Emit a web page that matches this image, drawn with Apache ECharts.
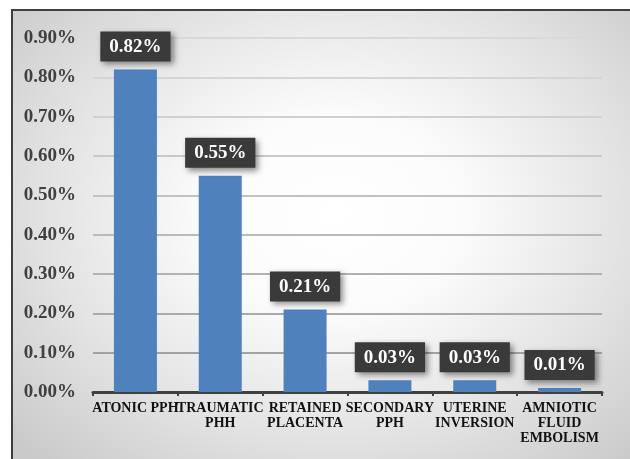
<!DOCTYPE html>
<html>
<head>
<meta charset="utf-8">
<script src="https://cdn.jsdelivr.net/npm/echarts@6/dist/echarts.min.js"></script>
<style>
  html, body { margin: 0; padding: 0; background: #fff; }
  #frame {
    position: absolute; left: 11px; top: 9px; width: 619px; height: 450px;
    border-left: 2px solid #404040; border-top: 2px solid #404040;
    background: radial-gradient(ellipse 70% 75% at 52% 45%, #ffffff 0%, #fbfbfb 30%, #e4e4e4 65%, #cacaca 100%);
  }
  #chart { position: absolute; left: 0; top: 0; width: 630px; height: 459px; }
</style>
</head>
<body>
<div id="frame"></div>
<div id="chart"></div>
<script>
// causes of PPH, share in percent
var categories = ['ATONIC PPH', 'TRAUMATIC\nPHH', 'RETAINED\nPLACENTA', 'SECONDARY\nPPH', 'UTERINE\nINVERSION', 'AMNIOTIC\nFLUID\nEMBOLISM'];
var values = [0.82, 0.55, 0.21, 0.03, 0.03, 0.01];

var serif = '"Liberation Serif", "Times New Roman", serif';

var chart = echarts.init(document.getElementById('chart'));
chart.setOption({
    backgroundColor: 'transparent',
    animation: false,
    grid: { left: 93, right: 28, top: 38, bottom: 67 },
    xAxis: {
        type: 'category',
        data: categories,
        axisLine: { lineStyle: { color: '#404040', width: 3 } },
        axisTick: { show: true, length: 4, lineStyle: { color: '#404040', width: 2 } },
        axisLabel: {
            interval: 0, margin: 9, color: '#111',
            fontFamily: serif, fontWeight: 'bold', fontSize: 14, lineHeight: 15
        }
    },
    yAxis: {
        type: 'value',
        min: 0, max: 0.9, interval: 0.1,
        axisLine: { show: false },
        axisTick: { show: false },
        splitLine: {
            lineStyle: {
                // lines look darker toward the bottom in the picture
                color: ['#999', '#a2a2a2', '#aaaaaa', '#b2b2b2', '#bababa', '#c2c2c2', '#c9c9c9', '#d0d0d0', '#d5d5d5', '#d9d9d9'],
                width: 2
            }
        },
        axisLabel: {
            margin: 17, color: '#404040',
            fontFamily: serif, fontWeight: 'bold', fontSize: 19,
            formatter: function (v) { return v.toFixed(2) + '%'; }
        }
    },
    series: [{
        type: 'bar',
        data: values,
        barWidth: 43,
        itemStyle: { color: '#4f81bd' },
        label: {
            show: true,
            position: 'top',
            distance: 8,
            color: '#fff',
            fontFamily: serif, fontWeight: 'bold', fontSize: 19,
            backgroundColor: '#3a3a3a',
            padding: [6, 9, 5, 9],
            shadowColor: 'rgba(0,0,0,0.45)', shadowBlur: 6, shadowOffsetX: 3, shadowOffsetY: 3,
            formatter: function (p) { return p.value.toFixed(2) + '%'; }
        }
    }]
});
</script>
</body>
</html>
